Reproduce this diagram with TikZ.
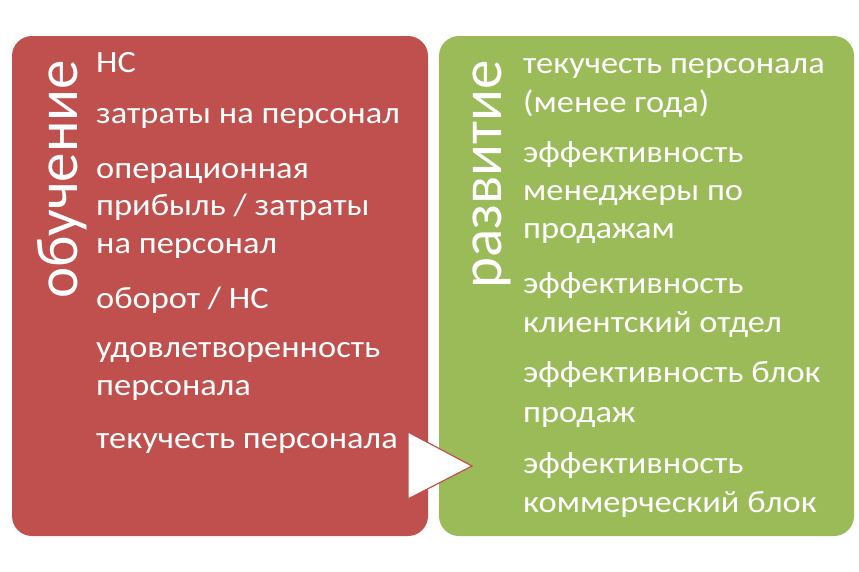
\documentclass[tikz,border=0pt]{standalone}
\usepackage{fontspec}
\setmainfont{Carlito}
\newfontfamily\itemfont[FakeStretch=1.11]{Carlito}
\definecolor{boxred}{HTML}{C0504D}
\definecolor{boxgreen}{HTML}{9BBB59}
\begin{document}
\begin{tikzpicture}[x=1pt,y=-1pt,
  panel/.style={rounded corners=20pt},
  item/.style={anchor=base west,inner sep=0pt,text=white,font=\itemfont\fontsize{31}{38}\selectfont},
  title/.style={anchor=base east,inner sep=0pt,text=white,rotate=90,font=\fontsize{59}{70}\selectfont}]
\useasboundingbox (0,0) rectangle (859,571);
\fill[boxred,panel] (12,36) rectangle (428,536);
\fill[boxgreen,panel] (439,36) rectangle (854,536);
\node[title] (t1) at (77,60) {обучение};
\node[title] (t2) at (501,60) {развитие};
% left items
\node[item] (r1) at (96,72) {НС};
\node[item] (r2) at (96,123) {затраты на персонал};
\node[item] (r3a) at (96,178) {операционная};
\node[item] (r3b) at (96,215) {прибыль / затраты};
\node[item] (r3c) at (96,253) {на персонал};
\node[item] (r4) at (96,308) {оборот / НС};
\node[item] (r5a) at (96,357) {удовлетворенность};
\node[item] (r5b) at (96,395) {персонала};
\node[item] (r6) at (96,448) {текучесть персонала};
% right items
\node[item] (g1a) at (523,73) {текучесть персонала};
\node[item] (g1b) at (523,112) {(менее года)};
\node[item] (g2a) at (523,162) {эффективность};
\node[item] (g2b) at (523,200) {менеджеры по};
\node[item] (g2c) at (523,238) {продажам};
\node[item] (g3a) at (523,293) {эффективность};
\node[item] (g3b) at (523,332) {клиентский отдел};
\node[item] (g4a) at (523,382) {эффективность блок};
\node[item] (g4b) at (523,422) {продаж};
\node[item] (g5a) at (523,473) {эффективность};
\node[item] (g5b) at (523,512) {коммерческий блок};
% arrow
\filldraw[fill=white,draw=boxred,line width=1.2pt,line join=miter] (408,432) -- (472,466) -- (408,499) -- cycle;
\end{tikzpicture}
\end{document}
